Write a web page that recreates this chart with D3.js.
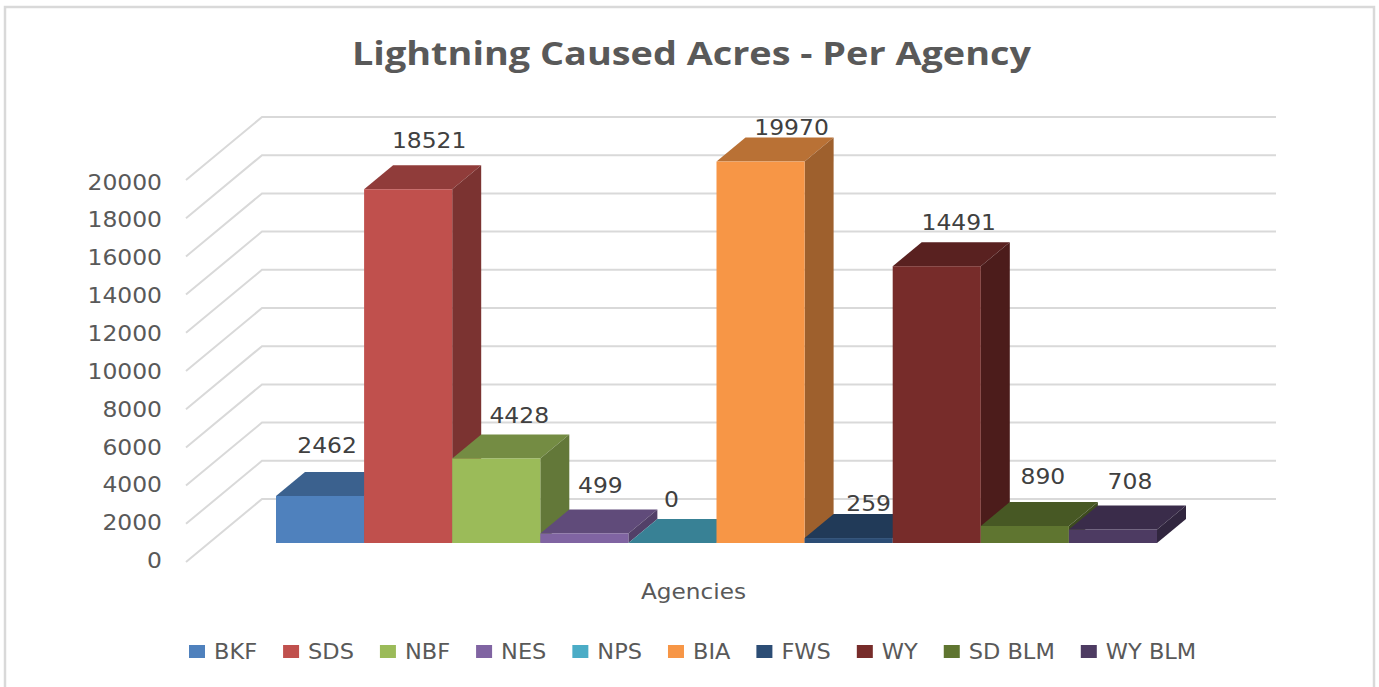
<!DOCTYPE html>
<html>
<head>
<meta charset="utf-8">
<title>Lightning Caused Acres - Per Agency</title>
<script src="https://cdn.jsdelivr.net/npm/d3@7"></script>
<style>
  body { margin: 0; background: #fff; }
  svg { display: block; }
  text { font-family: "DejaVu Sans", sans-serif; fill: #595959; }
  .title { font-family: "Open Sans", sans-serif; font-weight: 700; font-size: 33px; }
  .axis text { font-size: 21px; fill: #595959; }
  .axis path, .axis line { display: none; }
  .value-label { font-size: 21px; fill: #404040; }
  .axis-title { font-size: 21px; }
  .legend-label { font-size: 21px; }
</style>
</head>
<body>
<script>
const chartTitle = "Lightning Caused Acres - Per Agency";
const axisTitle = "Agencies";
const agencies = ["BKF", "SDS", "NBF", "NES", "NPS", "BIA", "FWS", "WY", "SD BLM", "WY BLM"];
const acres = [2462, 18521, 4428, 499, 0, 19970, 259, 14491, 890, 708];
const agencyColors = ["#4f81bd", "#c0504d", "#9bbb59", "#8064a2", "#4bacc6", "#f79646", "#2c4d75", "#772c2a", "#5f7530", "#4d3b62"];
const yTicks = [0, 2000, 4000, 6000, 8000, 10000, 12000, 14000, 16000, 18000, 20000];

// label nudges, Excel places these by hand-ish so no single rule fits
const labelNudgeX = [7, 21, 23, 16, -1, 31, 20, 22, 18, 17];
const labelNudgeY = [-19, -17, -11, -16, -12, -3, -3, -12, -18, -16];

const width = 1379, height = 687;
const depth = {x: 29, y: -24};
const wall = {x: 76, y: -63};
const digitWidth = 14.9;   // the source picture is stretched sideways
const legendStretch = 1.07;
let svg, x, y;

setupScales();
appendSvg("body");
appendFrame();
appendTitle();
appendGrid();
appendYAxis();
appendBars();
appendValueLabels();
appendAxisTitle();
appendLegend();

function setupScales() {
  x = d3.scaleBand().domain(agencies).range([276, 1157]);
  y = d3.scaleLinear().domain([0, 20000]).range([543, 161]);
}

function appendSvg(domElement) {
  svg = d3.select(domElement).append("svg")
    .attr("width", width)
    .attr("height", height);
}

function appendFrame() {
  svg.append("rect")
    .attr("x", 5).attr("y", 7)
    .attr("width", 1369).attr("height", 700)
    .attr("fill", "none")
    .attr("stroke", "#d9d9d9")
    .attr("stroke-width", 2.5);
}

function appendTitle() {
  svg.append("text")
    .attr("class", "title")
    .attr("x", 352).attr("y", 65)
    .attr("textLength", 679)
    .attr("lengthAdjust", "spacingAndGlyphs")
    .text(chartTitle);
}

function appendGrid() {
  const grid = svg.append("g")
    .attr("fill", "none")
    .attr("stroke", "#d9d9d9")
    .attr("stroke-width", 2);
  // side wall then back wall for every tick
  grid.selectAll("path")
    .data(yTicks)
    .join("path")
    .attr("d", d => {
      const backY = y(d) - 44;
      return d3.line()([[262 - wall.x, backY - wall.y], [262, backY], [1276, backY]]);
    });
}

function appendYAxis() {
  // tick labels sit on the front left edge, slightly tighter than the bars
  const labelScale = y.copy().range([560, 181.5]);
  svg.append("g")
    .attr("class", "axis")
    .attr("transform", "translate(162, 0)")
    .call(d3.axisLeft(labelScale).tickValues(yTicks).tickSize(0).tickPadding(0).tickFormat(d3.format("d")))
    .call(g => g.selectAll("text")
      .attr("dy", "0.36em")
      .attr("textLength", d => String(d).length * digitWidth)
      .attr("lengthAdjust", "spacingAndGlyphs"));
}

function shade(color, k) {
  const c = d3.rgb(color);
  return d3.rgb(c.r * k, c.g * k, c.b * k).formatHex();
}

function appendBars() {
  const bars = svg.selectAll(".bar")
    .data(agencies)
    .join("g")
    .attr("class", "bar");

  const left = d => x(d);
  const right = d => x(d) + x.bandwidth();
  const top = (d, i) => y(acres[i]);

  // top face
  bars.append("path")
    .attr("fill", (d, i) => shade(agencyColors[i], 0.75))
    .attr("d", (d, i) => d3.line()([
      [left(d), top(d, i)],
      [left(d) + depth.x, top(d, i) + depth.y],
      [right(d) + depth.x, top(d, i) + depth.y],
      [right(d), top(d, i)]
    ]));

  // side face
  bars.append("path")
    .attr("fill", (d, i) => shade(agencyColors[i], 0.64))
    .attr("d", (d, i) => d3.line()([
      [right(d), top(d, i)],
      [right(d) + depth.x, top(d, i) + depth.y],
      [right(d) + depth.x, y(0) + depth.y],
      [right(d), y(0)]
    ]));

  // front face
  bars.append("rect")
    .attr("x", left)
    .attr("y", top)
    .attr("width", x.bandwidth())
    .attr("height", (d, i) => y(0) - top(d, i))
    .attr("fill", (d, i) => agencyColors[i]);
}

function appendValueLabels() {
  svg.selectAll(".value-label")
    .data(acres)
    .join("text")
    .attr("class", "value-label")
    .attr("text-anchor", "middle")
    .attr("x", (d, i) => x(agencies[i]) + x.bandwidth() / 2 + labelNudgeX[i])
    .attr("y", (d, i) => y(d) + depth.y + labelNudgeY[i])
    .attr("textLength", d => String(d).length * digitWidth)
    .attr("lengthAdjust", "spacingAndGlyphs")
    .text(d => d);
}

function appendAxisTitle() {
  svg.append("text")
    .attr("class", "axis-title")
    .attr("x", 641).attr("y", 599)
    .attr("textLength", 105)
    .attr("lengthAdjust", "spacingAndGlyphs")
    .text(axisTitle);
}

function appendLegend() {
  const legend = svg.append("g");
  let cursor = 189;
  agencies.forEach((name, i) => {
    legend.append("rect")
      .attr("x", cursor).attr("y", 645)
      .attr("width", 16).attr("height", 13)
      .attr("fill", agencyColors[i]);
    const label = legend.append("text")
      .attr("class", "legend-label")
      .attr("x", cursor + 25).attr("y", 659)
      .text(name);
    const stretched = label.node().getComputedTextLength() * legendStretch;
    label.attr("textLength", stretched).attr("lengthAdjust", "spacingAndGlyphs");
    cursor += 25 + stretched + 26;
  });
}
</script>
</body>
</html>
